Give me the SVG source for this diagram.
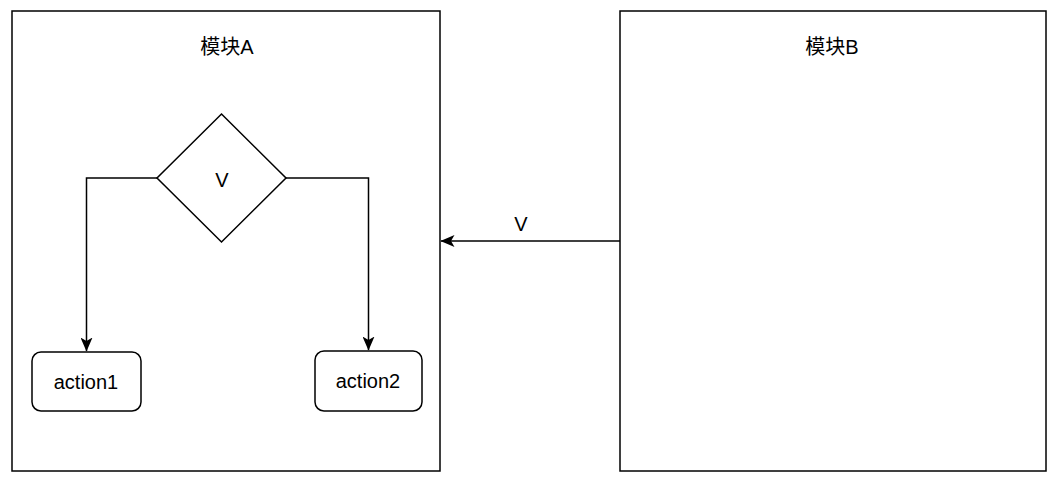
<svg xmlns="http://www.w3.org/2000/svg" width="1060" height="483" viewBox="0 0 1060 483">
<style>
.box{fill:#fff;stroke:#000;stroke-width:1.5}
.conn{fill:none;stroke:#000;stroke-width:1.5}
text{font-family:"Liberation Sans","Noto Sans CJK SC",sans-serif;font-size:20px;fill:#000;text-anchor:middle;dominant-baseline:central}
</style>
<defs>
<marker id="arr" viewBox="0 0 14 12" refX="13.5" refY="6" markerWidth="14" markerHeight="12" markerUnits="userSpaceOnUse" orient="auto">
<path d="M0,0 L14,6 L0,12 L3.5,6 Z" fill="#000"/>
</marker>
</defs>
<rect width="1060" height="483" fill="#fff"/>
<g id="moduleA">
<rect class="box" x="12" y="11" width="428" height="460"/>
<text x="227" y="47">模块A</text>
</g>
<g id="moduleB">
<rect class="box" x="620" y="11" width="426" height="460"/>
<text x="832" y="47">模块B</text>
</g>
<g id="decision">
<path class="box" d="M221.5,114 L286,178 L221.5,242 L157,178 Z"/>
<text x="222" y="180">V</text>
</g>
<g id="action1">
<rect class="box" x="32" y="352" width="109" height="59" rx="9"/>
<text x="86" y="382">action1</text>
</g>
<g id="action2">
<rect class="box" x="315" y="351" width="107" height="60" rx="9"/>
<text x="368" y="381">action2</text>
</g>
<g id="connectors">
<path class="conn" d="M157,178 L86.5,178 L86.5,351" marker-end="url(#arr)"/>
<path class="conn" d="M286,178 L368.5,178 L368.5,350" marker-end="url(#arr)"/>
<path class="conn" d="M620,241 L441,241" marker-end="url(#arr)"/>
<text x="521" y="224">V</text>
</g>
</svg>
